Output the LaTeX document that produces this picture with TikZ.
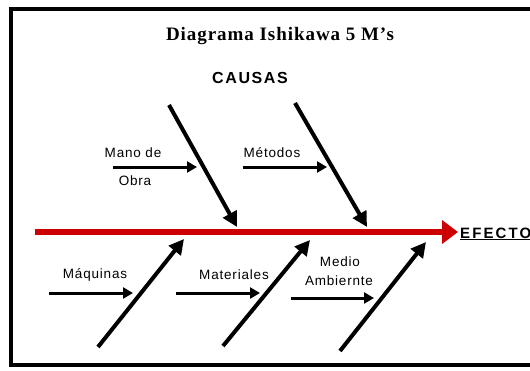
\documentclass[tikz,border=0pt]{standalone}
\usepackage{fontspec}
\setmainfont{Liberation Serif}
\newfontfamily\titlefont[LetterSpace=5]{Liberation Serif}
\newfontfamily\causefont[LetterSpace=10]{Liberation Sans}
\newfontfamily\efectofont[LetterSpace=14]{Liberation Sans}
\newfontfamily\labelfont[LetterSpace=6]{Liberation Sans}
\usetikzlibrary{arrows.meta}
\definecolor{spinered}{RGB}{204,0,0}
\tikzset{
  bone/.style={line width=4pt,-{Triangle[length=15pt,width=15pt]}},
  rib/.style={line width=3pt,-{Triangle[length=10pt,width=11pt]}},
  spine/.style={spinered,line width=5.5pt,-{Triangle[length=16pt,width=23pt]}},
  lbl/.style={font=\labelfont\fontsize{13.5}{15}\selectfont,inner sep=0pt,anchor=base},
}
\begin{document}
\begin{tikzpicture}[x=1pt,y=-1pt]
\useasboundingbox (0,0) rectangle (530,370);
\clip (0,0) rectangle (530,370);
\draw[line width=4pt] (10.5,9) rectangle (545,365);

\node[anchor=base,inner sep=0pt,font=\titlefont\bfseries\fontsize{19}{21}\selectfont] (title) at (280,40) {Diagrama Ishikawa 5 M’s};
\node[anchor=base,inner sep=0pt,font=\causefont\bfseries\fontsize{16}{18}\selectfont] (causas) at (250,83) {CAUSAS};

% espina central
\coordinate (tail) at (35,232);
\coordinate (head) at (458,232);
\node[anchor=base west,inner sep=0pt,font=\efectofont\bfseries\fontsize{15}{17}\selectfont] (efecto) at (460,238) {\underline{EFECTO}};
\draw[spine] (tail) -- (head);

% causas de arriba
\coordinate (mano top) at (169,105);
\coordinate (mano tip) at (237,227);
\draw[bone] (mano top) -- (mano tip);
\node[lbl] (mano) at (133,157) {Mano de};
\node[lbl] (obra) at (135,185) {Obra};
\coordinate (mano a) at (113,167);
\coordinate (mano b) at (197,167);
\draw[rib] (mano a) -- (mano b);

\coordinate (metodos top) at (295,103);
\coordinate (metodos tip) at (367,227);
\draw[bone] (metodos top) -- (metodos tip);
\node[lbl] (metodos) at (272,157) {Métodos};
\coordinate (metodos a) at (243,167);
\coordinate (metodos b) at (327,167);
\draw[rib] (metodos a) -- (metodos b);

% causas de abajo
\coordinate (maquinas top) at (98,347);
\coordinate (maquinas tip) at (184,239);
\draw[bone] (maquinas top) -- (maquinas tip);
\node[lbl] (maquinas) at (95,278) {Máquinas};
\coordinate (maquinas a) at (49,293);
\coordinate (maquinas b) at (133,293);
\draw[rib] (maquinas a) -- (maquinas b);

\coordinate (materiales top) at (223,346);
\coordinate (materiales tip) at (310,240);
\draw[bone] (materiales top) -- (materiales tip);
\node[lbl] (materiales) at (234,279) {Materiales};
\coordinate (materiales a) at (176,293);
\coordinate (materiales b) at (260,293);
\draw[rib] (materiales a) -- (materiales b);

\coordinate (medio top) at (340,351);
\coordinate (medio tip) at (426,242);
\draw[bone] (medio top) -- (medio tip);
\node[lbl] (medio) at (340,266) {Medio};
\node[lbl] (ambiente) at (339,285) {Ambiernte};
\coordinate (medio a) at (291,298);
\coordinate (medio b) at (374,298);
\draw[rib] (medio a) -- (medio b);
\end{tikzpicture}
\end{document}
